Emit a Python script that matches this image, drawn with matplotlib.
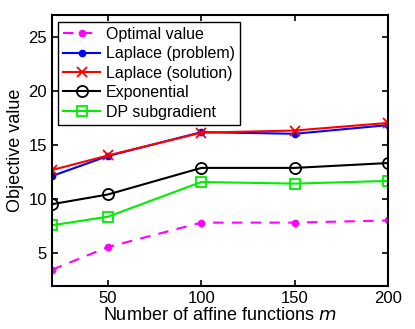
import matplotlib
matplotlib.use("Agg")
import matplotlib.pyplot as plt

plt.rcParams["font.family"] = ["Liberation Sans", "DejaVu Sans"]

m_values = [20, 50, 100, 150, 200]
optimal = [3.5, 5.6, 7.85, 7.85, 8.05]
laplace_problem = [12.15, 14.0, 16.2, 16.05, 16.85]
laplace_solution = [12.7, 14.05, 16.15, 16.35, 17.05]
exponential = [9.55, 10.45, 12.9, 12.9, 13.35]
dp_subgradient = [7.6, 8.4, 11.6, 11.45, 11.7]

x_ticks = [50, 100, 150, 200]
y_ticks = [5, 10, 15, 20, 25]

fig = plt.figure(figsize=(4.15, 3.29), dpi=100)
ax = fig.add_axes([0.1253, 0.1307, 0.8097, 0.8233])

ax.plot(m_values, optimal, "--", color="magenta", marker="o", markersize=4.5,
        linewidth=1.5, dashes=(5, 4), label="Optimal value")
ax.plot(m_values, laplace_problem, "-", color="blue", marker="o", markersize=4.5,
        linewidth=1.5, label="Laplace (problem)")
ax.plot(m_values, laplace_solution, "-", color="red", marker="x", markersize=7,
        markeredgewidth=1.3, linewidth=1.5, label="Laplace (solution)")
ax.plot(m_values, exponential, "-", color="black", marker="o", markersize=8,
        markerfacecolor="none", markeredgewidth=1.3, linewidth=1.5, label="Exponential")
ax.plot(m_values, dp_subgradient, "-", color="#00ee00", marker="s", markersize=6.5,
        markerfacecolor="none", markeredgewidth=1.3, linewidth=1.5, label="DP subgradient")

ax.set_xlim(20, 200)
ax.set_ylim(2, 27)
ax.set_xticks(x_ticks)
ax.set_yticks(y_ticks)
ax.tick_params(direction="in", top=True, right=True, labelsize=12, length=4, width=1.2)
for spine in ax.spines.values():
    spine.set_linewidth(1.5)

ax.set_xlabel("Number of affine functions $\\it{m}$", fontsize=13, labelpad=1)
ax.set_ylabel("Objective value", fontsize=13, labelpad=3)

leg = ax.legend(loc="upper left", fontsize=11.5, fancybox=False, framealpha=1,
                edgecolor="black", handlelength=2.3, handletextpad=0.35,
                labelspacing=0.28, borderpad=0.32, borderaxespad=0.4)
leg.get_frame().set_linewidth(1.0)

fig.savefig("out.png", dpi=100)
